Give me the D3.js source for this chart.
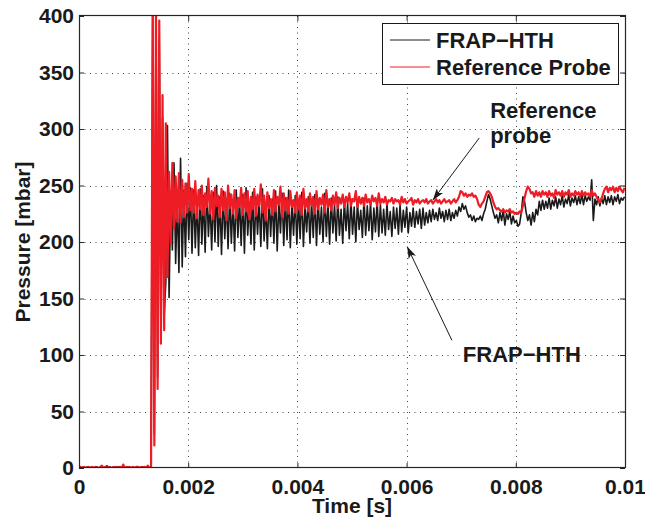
<!DOCTYPE html>
<html>
<head>
<meta charset="utf-8">
<script src="https://cdn.jsdelivr.net/npm/d3@7"></script>
<style>
  body { margin: 0; background: #fff; }
  text { font-family: "Liberation Sans", Arial, Helvetica, sans-serif; font-weight: bold; fill: #1a1a1a; }
</style>
</head>
<body>
<svg id="chart" width="645" height="523"></svg>
<script>
// sampling step of both records [s]
const dt = 0.00003;

// FRAP-HTH pressure [mbar], one value per sample
const frapHth = [
  1,0,0,1,0,1,0,0,1,0,
  0,1,0,0,1,0,0,2,0,1,
  0,0,1,0,1,0,0,1,0,0,
  1,0,0,1,0,0,1,0,0,1,
  0,1,0,0,2,400,30,400,80,380,
  120,310,135,164,303,151,245,193,270,181,
  238,173,274,178,246,187,252,202,248,190,
  246,195,238,188,247,198,241,191,249,205,
  236,193,244,200,250,196,240,189,245,203,
  238,194,243,199,236,192,246,204,239,197,
  242,190,248,206,235,198,244,193,240,207,
  237,196,247,201,233,194,241,205,238,199,
  245,192,236,208,243,197,239,202,246,195,
  234,206,241,198,237,203,244,196,232,209,
  240,199,236,204,242,197,238,207,231,200,
  243,205,235,198,239,208,233,201,240,206,
  229,199,237,210,234,203,238,207,231,200,
  236,211,228,204,239,206,232,210,235,202,
  230,209,237,205,233,208,229,206,234,211,
  227,205,231,212,230,207,233,209,228,213,
  231,208,226,214,230,213,227,216,229,212,
  230,215,226,217,228,218,229,220,226,219,
  230,221,227,218,228,220,229,219,226,221,
  228,223,231,227,234,229,232,226,222,224,
  219,223,218,221,220,223,219,225,229,236,
  242,238,232,226,221,224,217,226,219,228,
  215,225,220,227,216,223,217,219,214,216,
  226,240,236,226,219,224,215,226,218,229,
  224,236,228,237,229,236,230,239,229,237,
  232,240,230,238,233,241,231,238,234,242,
  232,239,235,241,233,240,234,242,233,241,
  236,240,237,255,219,238,233,240,232,239,
  234,241,233,240,235,241,233,240,236,242,
  234,239,237,240
];

// Reference probe pressure [mbar], same sampling
const refProbe = [
  0,1,0,1,0,0,1,0,1,0,
  1,0,0,1,2,0,1,0,1,0,
  0,1,0,1,0,1,0,3,0,1,
  0,1,0,1,0,1,1,0,1,0,
  1,0,2,0,1,410,20,408,70,396,
  110,330,122,305,169,262,199,270,212,258,
  218,261,217,255,222,252,226,260,228,247,
  226,254,221,246,229,250,224,243,231,256,
  225,245,220,248,232,241,222,247,228,244,
  219,250,230,242,225,246,221,239,231,248,
  224,243,227,245,220,240,229,247,223,242,
  232,251,226,241,219,244,230,238,224,246,
  227,240,233,249,222,243,228,239,225,245,
  231,237,226,244,229,241,224,247,230,238,
  227,243,232,240,225,245,229,239,233,242,
  226,246,231,238,228,241,233,244,230,239,
  234,242,231,240,235,243,232,238,236,245,
  231,240,234,239,232,242,235,238,233,241,
  236,239,232,243,234,238,235,240,233,237,
  236,239,234,238,236,237,233,240,235,238,
  234,236,237,239,233,237,235,238,234,236,
  237,235,238,234,236,237,234,236,238,235,
  237,234,236,238,235,236,237,234,236,238,
  235,237,240,245,244,241,243,240,242,241,
  243,240,241,238,233,231,234,236,240,244,
  245,243,240,235,231,229,230,228,227,229,
  226,228,227,229,226,227,225,226,225,227,
  226,232,239,245,249,247,243,244,240,245,
  241,244,240,245,242,244,240,245,241,243,
  239,246,242,244,241,245,240,244,242,246,
  240,243,241,245,242,244,240,245,241,244,
  242,243,240,246,241,243,240,237,235,238,
  243,247,249,244,248,246,249,244,248,245,
  249,246,244,248
];

const xTicks = [0, 0.002, 0.004, 0.006, 0.008, 0.01];
const xTickLabels = ["0", "0.002", "0.004", "0.006", "0.008", "0.01"];
const yTicks = [0, 50, 100, 150, 200, 250, 300, 350, 400];
const seriesNames = ["FRAP\u2212HTH", "Reference Probe"];
const seriesColors = ["#1a1a1a", "#ee1c25"];

const svg = d3.select("#chart");
const m = { left: 79, right: 625, top: 16, bottom: 468 };

const x = d3.scaleLinear().domain([0, 0.01]).range([m.left, m.right]);
const y = d3.scaleLinear().domain([0, 400]).range([m.bottom, m.top]);

svg.append("rect").attr("width", 645).attr("height", 523).attr("fill", "#fff");

// grid
const grid = svg.append("g")
  .attr("stroke", "#444")
  .attr("stroke-width", 1)
  .attr("stroke-dasharray", "1,4.5");
grid.selectAll("line.gx")
  .data(xTicks.slice(1, -1))
  .enter().append("line")
  .attr("x1", d => Math.round(x(d)) + 0.5).attr("x2", d => Math.round(x(d)) + 0.5)
  .attr("y1", m.top).attr("y2", m.bottom);
grid.selectAll("line.gy")
  .data(yTicks.slice(1, -1))
  .enter().append("line")
  .attr("y1", d => Math.round(y(d)) + 0.5).attr("y2", d => Math.round(y(d)) + 0.5)
  .attr("x1", m.left).attr("x2", m.right);

svg.append("clipPath").attr("id", "plotclip")
  .append("rect")
  .attr("x", m.left).attr("y", m.top)
  .attr("width", m.right - m.left).attr("height", m.bottom - m.top);

const line = d3.line()
  .x((d, i) => x(i * dt))
  .y(d => y(d));

const plot = svg.append("g").attr("clip-path", "url(#plotclip)");
[frapHth, refProbe].forEach(function(series, k) {
  plot.append("path")
    .datum(series)
    .attr("fill", "none")
    .attr("stroke", seriesColors[k])
    .attr("stroke-width", k === 0 ? 1.6 : 2.2)
    .attr("stroke-linejoin", "round")
    .attr("d", line);
});

// axes, ticks pointing inward on all four sides
const xAxisB = d3.axisBottom(x).tickValues(xTicks).tickFormat((d, i) => xTickLabels[i]).tickSizeInner(-5).tickSizeOuter(0).tickPadding(11);
const xAxisT = d3.axisTop(x).tickValues(xTicks).tickFormat("").tickSizeInner(-5).tickSizeOuter(0);
const yAxisL = d3.axisLeft(y).tickValues(yTicks).tickSizeInner(-5).tickSizeOuter(0).tickPadding(5);
const yAxisR = d3.axisRight(y).tickValues(yTicks).tickFormat("").tickSizeInner(-5).tickSizeOuter(0);

function styleAxis(g) {
  g.select(".domain").remove();
  g.selectAll(".tick line").attr("stroke", "#262626");
  g.selectAll("text").attr("font-size", "21px").attr("font-family", null).attr("fill", "#1a1a1a");
}
svg.append("g").attr("transform", `translate(0,${m.bottom})`).call(xAxisB).call(styleAxis);
svg.append("g").attr("transform", `translate(0,${m.top})`).call(xAxisT).call(styleAxis);
svg.append("g").attr("transform", `translate(${m.left},0)`).call(yAxisL).call(styleAxis);
svg.append("g").attr("transform", `translate(${m.right},0)`).call(yAxisR).call(styleAxis);

svg.append("rect")
  .attr("x", m.left + 0.5).attr("y", m.top - 0.5)
  .attr("width", m.right - m.left).attr("height", m.bottom - m.top)
  .attr("fill", "none").attr("stroke", "#262626").attr("stroke-width", 1.2);

// axis labels
svg.append("text")
  .attr("x", (m.left + m.right) / 2).attr("y", 513)
  .attr("text-anchor", "middle").attr("font-size", "21px")
  .text("Time [s]");
svg.append("text")
  .attr("transform", `translate(30,${(m.top + m.bottom) / 2}) rotate(-90)`)
  .attr("text-anchor", "middle").attr("font-size", "21px")
  .text("Pressure [mbar]");

// legend
const legend = svg.append("g");
legend.append("rect")
  .attr("x", 382.5).attr("y", 23.5).attr("width", 236).attr("height", 61)
  .attr("fill", "#fff").attr("stroke", "#1a1a1a").attr("stroke-width", 1);
seriesNames.forEach(function(name, k) {
  const ly = 40 + k * 27;
  legend.append("line")
    .attr("x1", 390).attr("x2", 430).attr("y1", ly).attr("y2", ly)
    .attr("stroke", seriesColors[k]).attr("stroke-width", 1);
  legend.append("text")
    .attr("x", 436).attr("y", ly).attr("dy", "0.36em")
    .attr("font-size", "22px")
    .text(name);
});

// annotations with arrows
svg.append("defs").append("marker")
  .attr("id", "head")
  .attr("viewBox", "0 0 12 8")
  .attr("refX", 12).attr("refY", 4)
  .attr("markerWidth", 12).attr("markerHeight", 8)
  .attr("markerUnits", "userSpaceOnUse")
  .attr("orient", "auto")
  .append("path").attr("d", "M0,0 L12,4 L0,8 L3,4 Z").attr("fill", "#1a1a1a");

const notes = [
  { lines: ["Reference", "probe"], tx: 0.00753, ty: 309.5, from: [0.00733, 292], to: [0.00648, 237] },
  { lines: ["FRAP\u2212HTH"], tx: 0.00703, ty: 94, from: [0.00683, 113], to: [0.00601, 196] }
];
notes.forEach(function(n) {
  svg.append("line")
    .attr("x1", x(n.from[0])).attr("y1", y(n.from[1]))
    .attr("x2", x(n.to[0])).attr("y2", y(n.to[1]))
    .attr("stroke", "#1a1a1a").attr("stroke-width", 1)
    .attr("marker-end", "url(#head)");
  n.lines.forEach(function(t, j) {
    svg.append("text")
      .attr("x", x(n.tx)).attr("y", y(n.ty) + j * 25)
      .attr("font-size", "22px")
      .text(t);
  });
});
</script>
</body>
</html>
